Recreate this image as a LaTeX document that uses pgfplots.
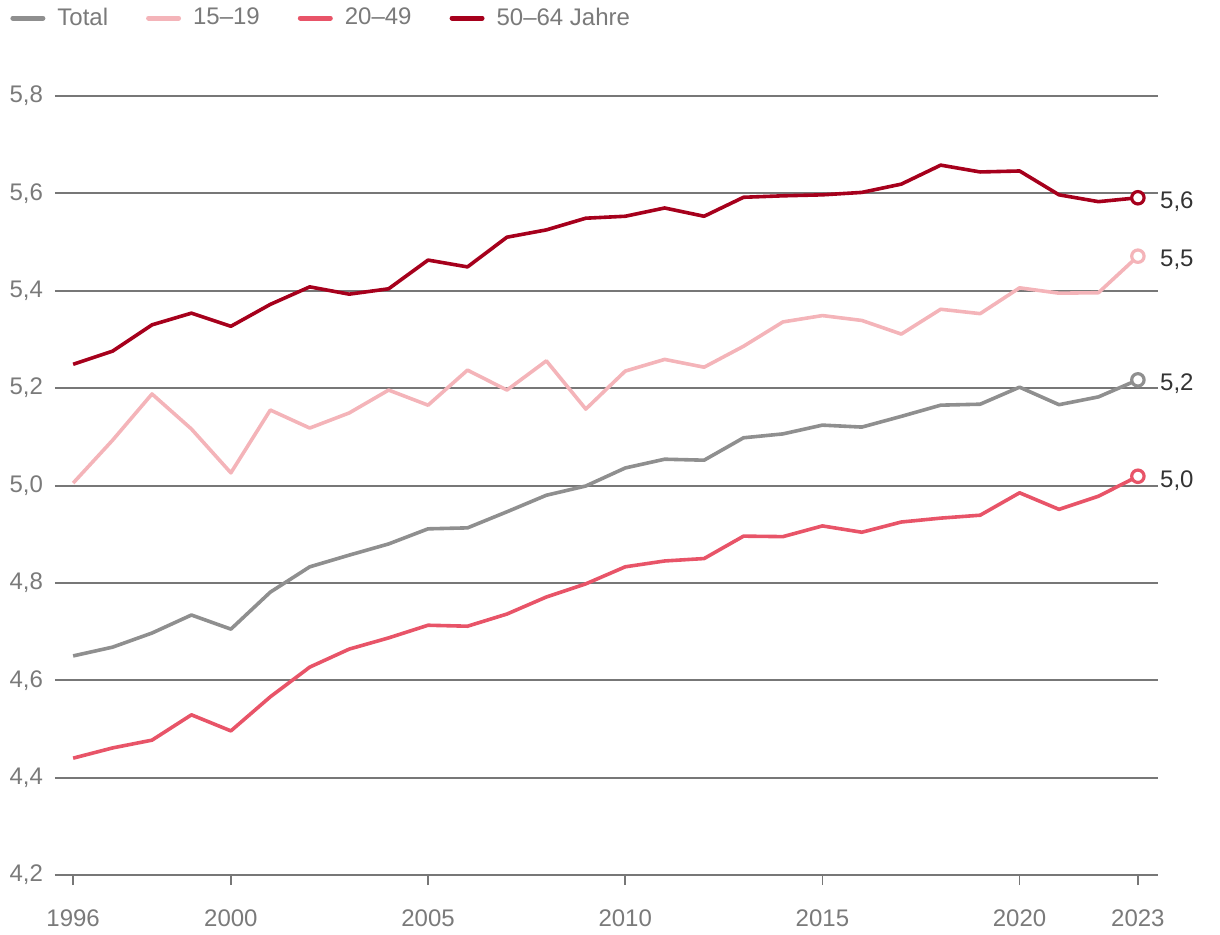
\documentclass[border=0pt]{standalone}
\usepackage{fontspec}
\setmainfont{Liberation Sans}
\usepackage{pgfplots}
\pgfplotsset{compat=1.18}

\definecolor{cTotal}{HTML}{8F8F8F}
\definecolor{cYoung}{HTML}{F4B4B9}
\definecolor{cMid}{HTML}{E85468}
\definecolor{cOld}{HTML}{A6001C}
\definecolor{gridc}{HTML}{777777}
\definecolor{labc}{HTML}{7A7A7A}
\definecolor{endc}{HTML}{333333}

\begin{document}
\begin{tikzpicture}[font=\fontsize{12}{14}\selectfont]
\useasboundingbox (-27.5pt,-29.5pt) rectangle (582.5pt,437.5pt);
\begin{axis}[
  at={(0,0)}, anchor=south west,
  scale only axis,
  width=551.5pt, height=389.5pt,
  xmin=1995.54, xmax=2023.51,
  ymin=4.2, ymax=5.8,
  clip=false,
  axis line style={draw=none},
  xtick={1996,2000,2005,2010,2015,2020,2023},
  ytick={4.2,4.4,...,5.81},
  xtick pos=bottom, ytick pos=left,
  tick align=outside,
  major tick length=5pt,
  x tick style={draw=gridc, line width=0.9pt},
  y tick style={draw=none},
  ymajorgrids,
  grid style={line width=1pt, color=gridc},
  extra y ticks={4.2},
  extra y tick labels={},
  extra y tick style={grid style={line width=1.4pt, color=gridc}},
  x tick label style={/pgf/number format/1000 sep={}, text=labc, yshift=-9pt},
  y tick label style={/pgf/number format/.cd, use comma, fixed, fixed zerofill, precision=1, /tikz/.cd, text=labc, xshift=2.5pt},
  /pgf/number format/assume math mode=true,
  legend columns=4,
  legend style={at={(-0.0408,1.1001)}, anchor=west, draw=none, fill=none,
    inner sep=0pt, text=labc, font=\fontsize{12}{14}\selectfont,
    /tikz/every odd column/.append style={column sep=4pt},
    /tikz/every even column/.append style={column sep=17pt}},
  legend image code/.code={\draw[#1, line width=2.5pt, line cap=round] (0pt,0pt) -- (15pt,0pt);},
  every axis plot/.append style={line width=1.8pt, line join=round, mark=none},
]

\addplot[cTotal] coordinates {
 (1996,4.650) (1997,4.668) (1998,4.697) (1999,4.734) (2000,4.705)
 (2001,4.781) (2002,4.833) (2003,4.857) (2004,4.880) (2005,4.911)
 (2006,4.913) (2007,4.946) (2008,4.980) (2009,4.999) (2010,5.036)
 (2011,5.054) (2012,5.052) (2013,5.098) (2014,5.106) (2015,5.124)
 (2016,5.120) (2017,5.142) (2018,5.165) (2019,5.167) (2020,5.202)
 (2021,5.166) (2022,5.182) (2023,5.217)};
\addlegendentry{Total}

\addplot[cYoung] coordinates {
 (1996,5.005) (1997,5.093) (1998,5.188) (1999,5.116) (2000,5.026)
 (2001,5.155) (2002,5.118) (2003,5.149) (2004,5.196) (2005,5.165)
 (2006,5.237) (2007,5.196) (2008,5.256) (2009,5.157) (2010,5.235)
 (2011,5.259) (2012,5.243) (2013,5.286) (2014,5.336) (2015,5.349)
 (2016,5.339) (2017,5.311) (2018,5.362) (2019,5.353) (2020,5.406)
 (2021,5.395) (2022,5.396) (2023,5.471)};
\addlegendentry{15--19}

\addplot[cMid] coordinates {
 (1996,4.440) (1997,4.461) (1998,4.477) (1999,4.529) (2000,4.496)
 (2001,4.566) (2002,4.627) (2003,4.664) (2004,4.687) (2005,4.713)
 (2006,4.711) (2007,4.736) (2008,4.771) (2009,4.798) (2010,4.833)
 (2011,4.845) (2012,4.850) (2013,4.896) (2014,4.895) (2015,4.917)
 (2016,4.904) (2017,4.925) (2018,4.933) (2019,4.939) (2020,4.985)
 (2021,4.951) (2022,4.978) (2023,5.019)};
\addlegendentry{20--49}

\addplot[cOld] coordinates {
 (1996,5.249) (1997,5.276) (1998,5.330) (1999,5.354) (2000,5.327)
 (2001,5.372) (2002,5.408) (2003,5.393) (2004,5.404) (2005,5.463)
 (2006,5.449) (2007,5.510) (2008,5.525) (2009,5.549) (2010,5.553)
 (2011,5.570) (2012,5.553) (2013,5.592) (2014,5.595) (2015,5.597)
 (2016,5.602) (2017,5.619) (2018,5.658) (2019,5.644) (2020,5.646)
 (2021,5.597) (2022,5.583) (2023,5.591)};
\addlegendentry{50--64 Jahre}

% end points with value labels
\pgfplotsset{endpt/.style={forget plot, only marks, mark=*, mark size=3.1pt,
  mark options={fill=white, draw=#1, line width=1.6pt},
  nodes near coords style={anchor=west, text=endc, xshift=7pt, yshift=-2pt, font=\fontsize{12}{14}\selectfont}}}
\addplot[endpt=cOld, nodes near coords={5,6}] coordinates {(2023,5.591)};
\addplot[endpt=cYoung, nodes near coords={5,5}] coordinates {(2023,5.471)};
\addplot[endpt=cTotal, nodes near coords={5,2}] coordinates {(2023,5.217)};
\addplot[endpt=cMid, nodes near coords={5,0}] coordinates {(2023,5.019)};
\end{axis}
\end{tikzpicture}
\end{document}
